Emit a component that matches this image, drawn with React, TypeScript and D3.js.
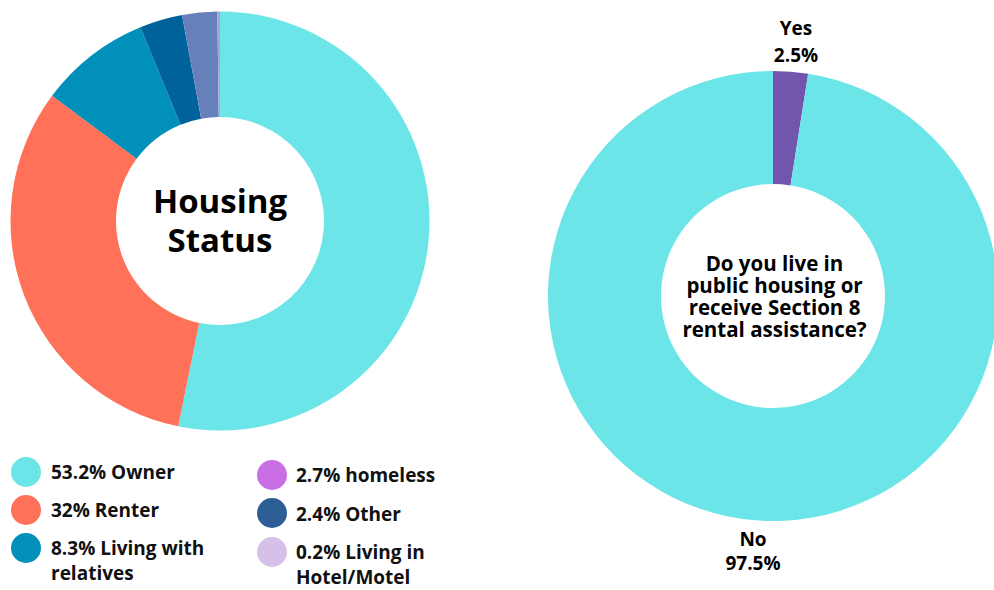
import React from "react";
import * as d3 from "d3";

// Left donut: slices (clockwise from top)
const sliceNames = ["Owner", "Renter", "Living with relatives", "Dark blue slice", "Slate slice", "Living in Hotel/Motel"];
const sliceValues = [53.2, 32, 8.6, 3.3, 2.7, 0.2];
const sliceColors = ["#6ce5e8", "#ff7259", "#0190b9", "#00629b", "#6880b9", "#a9a2dc"];

// Legend
const legendPercents = ["53.2%", "32%", "8.3%", "2.7%", "2.4%", "0.2%"];
const legendNames = ["Owner", "Renter", "Living with relatives", "homeless", "Other", "Living in Hotel/Motel"];
const legendColors = ["#6ce5e8", "#ff7259", "#0190b9", "#c96ee4", "#2e5e96", "#d4c0e8"];

// Right donut
const s8Categories = ["Yes", "No"];
const s8Values = [2.5, 97.5];
const s8Colors = ["#7255ad", "#6ce5e8"];

const FONT = "'Open Sans', sans-serif";

export default function App() {
  const pie = d3.pie<number>().sort(null).value((d) => d);
  const leftArcs = pie(sliceValues);
  const leftArc = d3.arc<d3.PieArcDatum<number>>().innerRadius(104).outerRadius(209.5);
  const rightArcs = pie(s8Values);
  const rightArc = d3.arc<d3.PieArcDatum<number>>().innerRadius(112).outerRadius(225);

  const legendLayout = [
    { x: 26, cy: 472, tx: 51, lines: [479] },
    { x: 26, cy: 510, tx: 51, lines: [517] },
    { x: 26, cy: 548, tx: 51, lines: [555, 580] },
    { x: 272, cy: 475, tx: 296, lines: [482] },
    { x: 272, cy: 513, tx: 296, lines: [521] },
    { x: 272, cy: 552, tx: 296, lines: [559, 584] },
  ];
  const wrapLabel = (i: number) => {
    const full = `${legendPercents[i]} ${legendNames[i]}`;
    if (i === 2) return [`${legendPercents[i]} Living with`, "relatives"];
    if (i === 5) return [`${legendPercents[i]} Living in`, "Hotel/Motel"];
    return [full];
  };

  const centerLines = ["Do you live in", "public housing or", "receive Section 8", "rental assistance?"];

  return (
    <svg width={994} height={590} style={{ position: "absolute", left: 0, top: 0, background: "#fff" }} fontFamily={FONT}>
      <g transform="translate(220,221)">
        {leftArcs.map((a, i) => (
          <path key={sliceNames[i]} d={leftArc(a) || ""} fill={sliceColors[i]} />
        ))}
        <text textAnchor="middle" fontSize={33} fontWeight={700} fill="#000">
          <tspan x={0} y={-8}>Housing</tspan>
          <tspan x={0} y={31}>Status</tspan>
        </text>
      </g>
      {legendLayout.map((l, i) => (
        <g key={legendNames[i]}>
          <circle cx={l.x} cy={l.cy} r={15} fill={legendColors[i]} />
          <text fontSize={19} fontWeight={700} fill="#111">
            {wrapLabel(i).map((t, j) => (
              <tspan key={j} x={l.tx} y={l.lines[j]}>{t}</tspan>
            ))}
          </text>
        </g>
      ))}
      <g transform="translate(773,296)">
        {rightArcs.map((a, i) => (
          <path key={s8Categories[i]} d={rightArc(a) || ""} fill={s8Colors[i]} />
        ))}
        <text textAnchor="middle" fontSize={20.5} fontWeight={700} fill="#000">
          {centerLines.map((t, i) => (
            <tspan key={i} x={1.5} y={-25 + i * 22}>{t}</tspan>
          ))}
        </text>
      </g>
      <text textAnchor="middle" fontSize={19} fontWeight={700} fill="#000">
        <tspan x={796} y={35}>{s8Categories[0]}</tspan>
        <tspan x={796} y={62}>{`${s8Values[0]}%`}</tspan>
      </text>
      <text textAnchor="middle" fontSize={19} fontWeight={700} fill="#000">
        <tspan x={753} y={546}>{s8Categories[1]}</tspan>
        <tspan x={753} y={570}>{`${s8Values[1]}%`}</tspan>
      </text>
    </svg>
  );
}
